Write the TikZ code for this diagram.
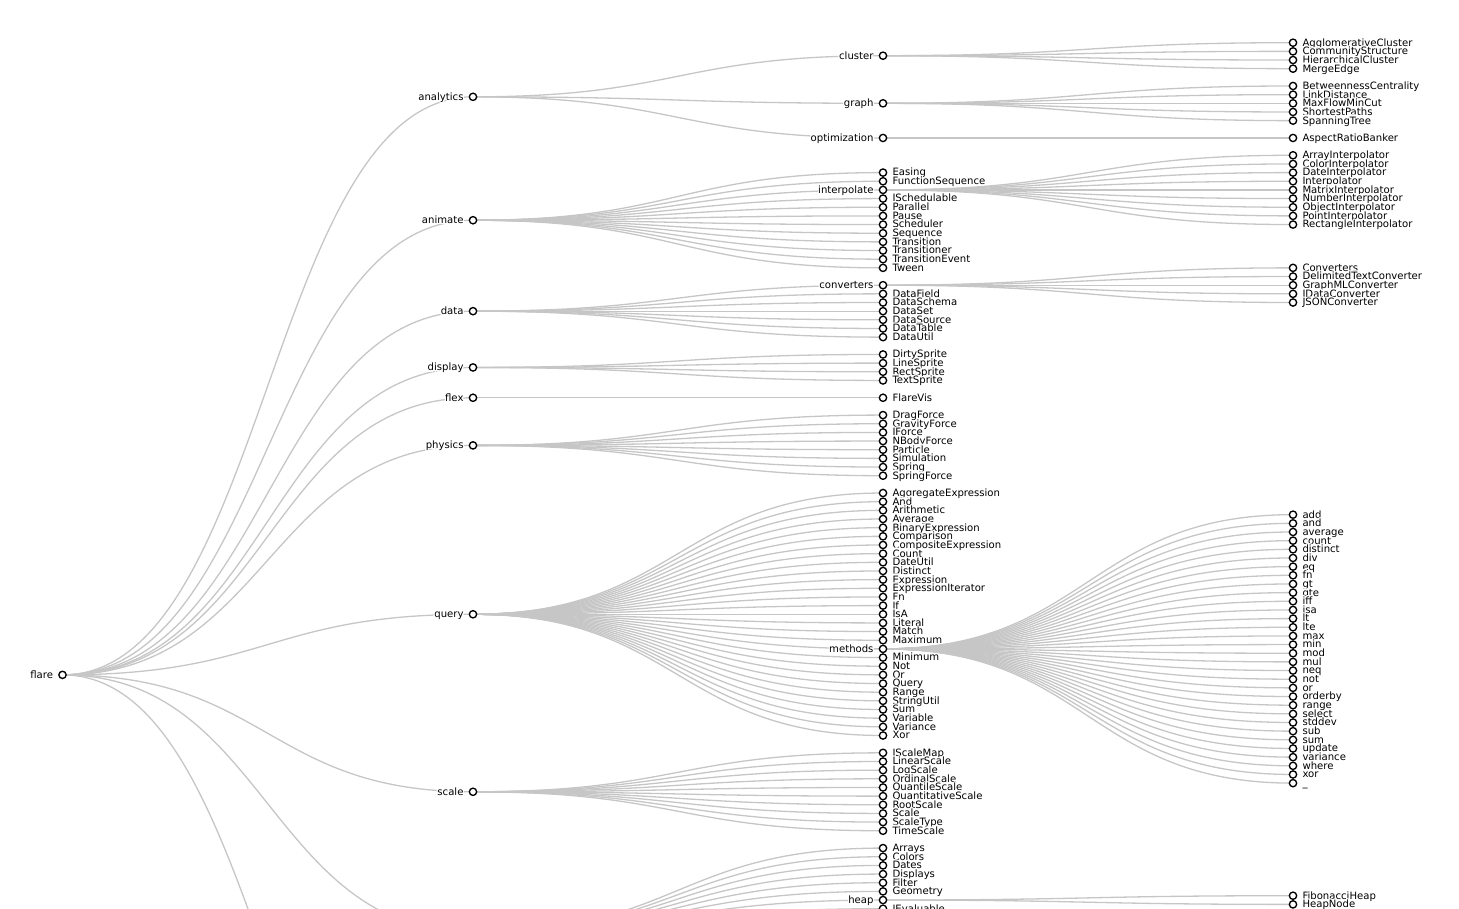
\documentclass[tikz,border=0pt]{standalone}
\usepackage{fontspec}
\usepackage[copies]{contour}
\usetikzlibrary{backgrounds}
\newfontfamily\lblfont{DejaVu Sans}
\contourlength{1.2pt}
\contournumber{16}
\definecolor{linkgray}{HTML}{C6C6C6}
\tikzset{
  dot/.style={circle,draw=black,fill=white,line width=1.35pt,minimum size=7.3pt,inner sep=0pt},
  lbl/.style={inner sep=0pt,font=\lblfont\fontsize{10.1pt}{12pt}\selectfont},
  link/.style={draw=linkgray,line width=1.3pt},
}
\newcommand{\Ypos}[1]{-(42.7+8.66*(#1))}
\newcommand{\leafnode}[4]{%
  \node[dot] (#1) at (#2,{\Ypos{#3}}) {};
  \node[lbl,anchor=base west] (#1-t) at ([xshift=9.3pt,yshift=-3.4pt]#1.center) {\contour{white}{#4}};}
\newcommand{\parnode}[4]{%
  \node[dot] (#1) at (#2,{\Ypos{#3}}) {};
  \node[lbl,anchor=base east] (#1-t) at ([xshift=-9.3pt,yshift=-3.4pt]#1.center) {\contour{white}{#4}};}
\newcommand{\lk}[2]{\draw[link] (#1.center) .. controls ([xshift=205pt]#1.center) and ([xshift=-205pt]#2.center) .. (#2.center);}
% child lists
\def\animA{Easing,FunctionSequence}
\def\animB{ISchedulable,Parallel,Pause,Scheduler,Sequence,Transition,Transitioner,TransitionEvent,Tween}
\def\dataL{DataField,DataSchema,DataSet,DataSource,DataTable,DataUtil}
\def\dispL{DirtySprite,LineSprite,RectSprite,TextSprite}
\def\physL{DragForce,GravityForce,IForce,NBodyForce,Particle,Simulation,Spring,SpringForce}
\def\queryA{AggregateExpression,And,Arithmetic,Average,BinaryExpression,Comparison,CompositeExpression,Count,DateUtil,Distinct,Expression,ExpressionIterator,Fn,If,IsA,Literal,Match,Maximum}
\def\queryB{Minimum,Not,Or,Query,Range,StringUtil,Sum,Variable,Variance,Xor}
\def\scaleL{IScaleMap,LinearScale,LogScale,OrdinalScale,QuantileScale,QuantitativeScale,RootScale,Scale,ScaleType,TimeScale}
\def\utilA{Arrays,Colors,Dates,Displays,Filter,Geometry}
\def\clusterL{AgglomerativeCluster,CommunityStructure,HierarchicalCluster,MergeEdge}
\def\graphL{BetweennessCentrality,LinkDistance,MaxFlowMinCut,ShortestPaths,SpanningTree}
\def\interpL{ArrayInterpolator,ColorInterpolator,DateInterpolator,Interpolator,MatrixInterpolator,NumberInterpolator,ObjectInterpolator,PointInterpolator,RectangleInterpolator}
\def\convL{Converters,DelimitedTextConverter,GraphMLConverter,IDataConverter,JSONConverter}
\def\methL{add,and,average,count,distinct,div,eq,fn,gt,gte,iff,isa,lt,lte,max,min,mod,mul,neq,not,or,orderby,range,select,stddev,sub,sum,update,variance,where,xor}
\begin{document}
\begin{tikzpicture}[x=1pt,y=1pt]
\useasboundingbox (0,0) rectangle (1459,-909);
\clip (0,0) rectangle (1459,-909);
% ---------- depth 0
\parnode{flare}{62.5}{73}{flare}
% ---------- depth 1
\parnode{analytics}{473}{6.25}{analytics}
\parnode{animate}{473}{20.5}{animate}
\parnode{data}{473}{31}{data}
\parnode{display}{473}{37.5}{display}
\parnode{flex}{473}{41}{flex}
\parnode{physics}{473}{46.5}{physics}
\parnode{query}{473}{66}{query}
\parnode{scale}{473}{86.5}{scale}
\coordinate (util) at (473,{\Ypos{102.75}});
\coordinate (vis) at (473,{\Ypos{139.75}});
% ---------- depth 2
\parnode{cluster}{883}{1.5}{cluster}
\parnode{graph}{883}{7}{graph}
\parnode{optimization}{883}{11}{optimization}
\foreach \n [count=\i from 15] in \animA {\leafnode{\n}{883}{\i}{\n}}
\parnode{interpolate}{883}{17}{interpolate}
\foreach \n [count=\i from 18] in \animB {\leafnode{\n}{883}{\i}{\n}}
\parnode{converters}{883}{28}{converters}
\foreach \n [count=\i from 29] in \dataL {\leafnode{\n}{883}{\i}{\n}}
\foreach \n [count=\i from 36] in \dispL {\leafnode{\n}{883}{\i}{\n}}
\leafnode{FlareVis}{883}{41}{FlareVis}
\foreach \n [count=\i from 43] in \physL {\leafnode{\n}{883}{\i}{\n}}
\foreach \n [count=\i from 52] in \queryA {\leafnode{\n}{883}{\i}{\n}}
\parnode{methods}{883}{70}{methods}
\foreach \n [count=\i from 71] in \queryB {\leafnode{\n}{883}{\i}{\n}}
\foreach \n [count=\i from 82] in \scaleL {\leafnode{\n}{883}{\i}{\n}}
\foreach \n [count=\i from 93] in \utilA {\leafnode{\n}{883}{\i}{\n}}
\parnode{heap}{883}{99}{heap}
\leafnode{IEvaluable}{883}{100}{IEvaluable}
% ---------- depth 3
\foreach \n [count=\i from 0] in \clusterL {\leafnode{\n}{1293}{\i}{\n}}
\foreach \n [count=\i from 5] in \graphL {\leafnode{\n}{1293}{\i}{\n}}
\leafnode{AspectRatioBanker}{1293}{11}{AspectRatioBanker}
\foreach \n [count=\i from 13] in \interpL {\leafnode{\n}{1293}{\i}{\n}}
\foreach \n [count=\i from 26] in \convL {\leafnode{\n}{1293}{\i}{\n}}
\foreach \n [count=\i from 0] in \methL {\leafnode{m-\n}{1293}{54.5+\i}{\n}}
\leafnode{m-underscore}{1293}{85.5}{\_}
\leafnode{FibonacciHeap}{1293}{98.5}{FibonacciHeap}
\leafnode{HeapNode}{1293}{99.5}{HeapNode}
% ---------- links
\begin{scope}[on background layer]
\clip (0,0) rectangle (1459,-909);
\foreach \n in {analytics,animate,data,display,flex,physics,query,scale,util,vis} {\lk{flare}{\n}}
\foreach \n in {cluster,graph,optimization} {\lk{analytics}{\n}}
\foreach \n in \animA {\lk{animate}{\n}}
\lk{animate}{interpolate}
\foreach \n in \animB {\lk{animate}{\n}}
\lk{data}{converters}
\foreach \n in \dataL {\lk{data}{\n}}
\foreach \n in \dispL {\lk{display}{\n}}
\lk{flex}{FlareVis}
\foreach \n in \physL {\lk{physics}{\n}}
\foreach \n in \queryA {\lk{query}{\n}}
\lk{query}{methods}
\foreach \n in \queryB {\lk{query}{\n}}
\foreach \n in \scaleL {\lk{scale}{\n}}
\foreach \n in \utilA {\lk{util}{\n}}
\lk{util}{heap}
\lk{util}{IEvaluable}
\foreach \n in \clusterL {\lk{cluster}{\n}}
\foreach \n in \graphL {\lk{graph}{\n}}
\lk{optimization}{AspectRatioBanker}
\foreach \n in \interpL {\lk{interpolate}{\n}}
\foreach \n in \convL {\lk{converters}{\n}}
\foreach \n in \methL {\lk{methods}{m-\n}}
\lk{methods}{m-underscore}
\lk{heap}{FibonacciHeap}
\lk{heap}{HeapNode}
\end{scope}
\end{tikzpicture}
\end{document}
